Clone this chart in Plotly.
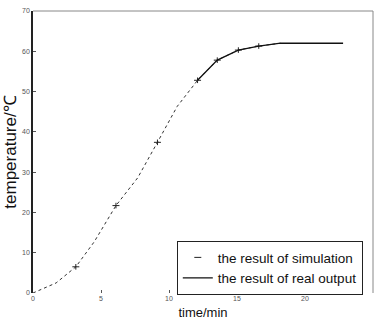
import plotly.graph_objects as go

# simulation result (dotted line with + markers)
sim_time = [0, 1.7, 3.15, 4.5, 6.1, 7.7, 9.15, 10.6, 12.1, 13.55, 15.1, 16.6, 18.2]
sim_temp = [0, 2.5, 6.5, 12.7, 21.7, 28.6, 37.4, 46.3, 52.8, 57.8, 60.3, 61.3, 62.0]
sim_marker_time = [3.15, 6.1, 9.15, 12.1, 13.55, 15.1, 16.6]
sim_marker_temp = [6.5, 21.7, 37.4, 52.8, 57.8, 60.3, 61.3]

# real output (solid line)
real_time = [12.1, 13.55, 15.1, 16.6, 18.2, 20.0, 22.8]
real_temp = [52.8, 57.8, 60.3, 61.3, 62.0, 62.0, 62.0]

x_ticks = [0, 5, 10, 15, 20, 25]
y_ticks = [0, 10, 20, 30, 40, 50, 60, 70]

fig = go.Figure()
fig.add_trace(go.Scatter(x=sim_time, y=sim_temp, mode="lines",
                         line=dict(color="#333", width=1, dash="dot"),
                         name="the result of simulation", showlegend=False))
fig.add_trace(go.Scatter(x=sim_marker_time, y=sim_marker_temp, mode="markers",
                         marker=dict(symbol="line-ew", size=5, color="#222",
                                     line=dict(color="#222", width=1)),
                         name="the result of simulation"))
fig.add_trace(go.Scatter(x=sim_marker_time, y=sim_marker_temp, mode="markers",
                         marker=dict(symbol="line-ns", size=4, color="#222",
                                     line=dict(color="#222", width=1)),
                         showlegend=False))
fig.add_trace(go.Scatter(x=real_time, y=real_temp, mode="lines",
                         line=dict(color="#111", width=1.3),
                         name="the result of real output"))

fig.update_layout(
    width=375, height=326,
    margin=dict(l=33, r=2, t=11, b=33),
    paper_bgcolor="white", plot_bgcolor="white",
    font=dict(family="Liberation Sans, Arial, sans-serif", color="#111"),
    xaxis=dict(range=[0, 25], tickvals=x_ticks, ticks="inside", ticklen=3,
               tickcolor="#555", showgrid=False, zeroline=False, showline=False,
               automargin=False,
               tickfont=dict(size=7, color="#555"),
               title=dict(text="time/min", font=dict(size=13), standoff=6)),
    yaxis=dict(range=[0, 70], tickvals=y_ticks, ticks="inside", ticklen=3,
               tickcolor="#555", showgrid=False, zeroline=False, showline=True,
               linecolor="#222", linewidth=1.5, automargin=False,
               tickfont=dict(size=7, color="#555"),
               title=dict(text="temperature/℃", font=dict(size=17), standoff=1)),
    legend=dict(x=0.97, y=0.184, xanchor="right", yanchor="top",
                bordercolor="#222", borderwidth=1, bgcolor="white",
                font=dict(size=13.5), tracegroupgap=0, itemwidth=30),
    shapes=[
        dict(type="line", xref="paper", yref="paper", x0=0, x1=1, y0=1, y1=1,
             line=dict(color="#888", width=1)),
        dict(type="line", xref="paper", yref="paper", x0=1, x1=1, y0=0, y1=1,
             line=dict(color="#888", width=1)),
    ],
)

fig.write_html("out.html", config={"displayModeBar": False},
               post_script="document.body.style.margin='0';document.body.style.overflow='hidden';")
